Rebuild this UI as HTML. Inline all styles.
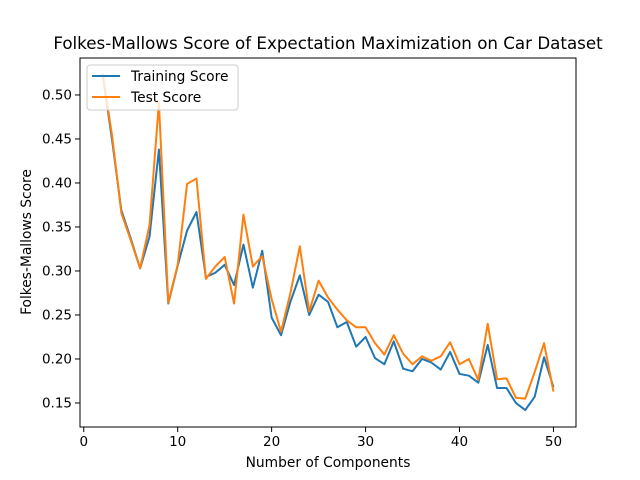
<!DOCTYPE html>
<html><head><meta charset="utf-8"><style>
body{margin:0;background:#fff;}
svg{display:block;font-family:"DejaVu Sans","Liberation Sans",sans-serif;}
</style></head><body>
<svg id="chart" width="640" height="480"></svg>
<script>
const xs=[2,3,4,5,6,7,8,9,10,11,12,13,14,15,16,17,18,19,20,21,22,23,24,25,26,27,28,29,30,31,32,33,34,35,36,37,38,39,40,41,42,43,44,45,46,47,48,49,50];
const trainScores=[0.524,0.45,0.369,0.337,0.303,0.339,0.438,0.263,0.306,0.346,0.367,0.293,0.298,0.307,0.284,0.33,0.281,0.323,0.247,0.227,0.265,0.295,0.25,0.273,0.265,0.236,0.242,0.214,0.225,0.201,0.194,0.220,0.189,0.186,0.200,0.196,0.188,0.208,0.183,0.181,0.173,0.216,0.167,0.167,0.150,0.142,0.157,0.202,0.168];
const testScores=[0.524,0.455,0.366,0.335,0.303,0.352,0.491,0.264,0.307,0.399,0.405,0.291,0.305,0.316,0.263,0.364,0.305,0.317,0.268,0.231,0.275,0.328,0.254,0.289,0.270,0.256,0.244,0.236,0.236,0.218,0.205,0.227,0.206,0.194,0.203,0.198,0.203,0.219,0.194,0.200,0.176,0.240,0.177,0.178,0.156,0.155,0.185,0.218,0.163];
const xTicks=[0,10,20,30,40,50];
const yTicks=[0.15,0.20,0.25,0.30,0.35,0.40,0.45,0.50];
const L=80,R=576,T=58,B=427;
const xMin=-0.4,xMax=52.4,yMin=0.1227,yMax=0.5420;
const sx=v=>L+(v-xMin)/(xMax-xMin)*(R-L);
const sy=v=>B-(v-yMin)/(yMax-yMin)*(B-T);
const svg=document.getElementById('chart');
const NS='http://www.w3.org/2000/svg';
function mk(tag,attrs,parent){const e=document.createElementNS(NS,tag);for(const k in attrs)e.setAttribute(k,attrs[k]);(parent||svg).appendChild(e);return e;}
function txt(s,attrs){const e=mk('text',attrs);e.textContent=s;return e;}
xTicks.forEach(t=>{
  const l=mk('line',{x1:sx(t),x2:sx(t),y1:B,y2:B+5,stroke:'#000','stroke-width':1});
  
  
  const e=txt(String(t),{x:sx(t),y:B+19,'font-size':13.5,'text-anchor':'middle',fill:'#000'});
  
  
});
yTicks.forEach(t=>{
  const l=mk('line',{x1:L-5,x2:L,y1:sy(t),y2:sy(t),stroke:'#000','stroke-width':1});
  
  
  const e=txt(t.toFixed(2),{x:L-8,y:sy(t)+4.5,'font-size':13.5,'text-anchor':'end',fill:'#000'});
  
  
});
function series(vals,color,name){
  const p=mk('polyline',{points:xs.map((x,i)=>sx(x)+','+sy(vals[i])).join(' '),fill:'none',stroke:color,'stroke-width':2,'stroke-linejoin':'round'});
  
  
}
series(trainScores,'#1f77b4','training-score-line');
series(testScores,'#ff7f0e','test-score-line');
const frame=mk('rect',{x:L,y:T,width:R-L,height:B-T,fill:'none',stroke:'#000','stroke-width':1});


</script>
<svg width="640" height="480" style="position:absolute;left:0;top:0">
<text x="328" y="49" font-size="16.7" text-anchor="middle">Folkes-Mallows Score of Expectation Maximization on Car Dataset</text>
<text x="328" y="467" font-size="13.8" text-anchor="middle">Number of Components</text>
<text x="0" y="0" font-size="13.8" text-anchor="middle" transform="translate(31,242) rotate(-90)">Folkes-Mallows Score</text>
<g>
<rect x="87" y="65" width="151" height="45" rx="3" fill="#fff" fill-opacity="0.8" stroke="#ccc"/>
<line x1="92" x2="120" y1="76" y2="76" stroke="#1f77b4" stroke-width="2"/>
<text x="131" y="81" font-size="13.8">Training Score</text>
<line x1="92" x2="120" y1="97" y2="97" stroke="#ff7f0e" stroke-width="2"/>
<text x="131" y="102" font-size="13.8">Test Score</text>
</g>
</svg>
</body></html>
